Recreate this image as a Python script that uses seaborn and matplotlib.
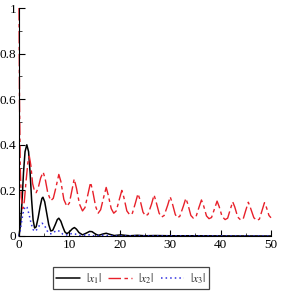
import matplotlib
matplotlib.use("Agg")
import matplotlib.pyplot as plt
import seaborn as sns
import pandas as pd
from matplotlib.ticker import MultipleLocator

# |x1| (black, solid)
x1_t = [0, 0.3, 0.6, 0.9, 1.2, 1.55, 1.9, 2.2, 2.5, 2.8, 3.1, 3.4, 3.8, 4.2, 4.55,
        4.75, 5.1, 5.5, 5.9, 6.3, 6.7, 7.2, 7.6, 7.9, 8.3, 8.7, 9.1, 9.5, 10.0,
        10.6, 11.0, 11.4, 11.9, 12.6, 13.3, 14.0, 14.5, 15.2, 15.8, 16.7, 17.3,
        17.9, 18.9, 20.2, 21.0, 22.0, 23.5, 25.0, 27.0, 30.0, 35.0, 40.0, 50.0]
x1_v = [0, 0.05, 0.15, 0.28, 0.37, 0.40, 0.37, 0.28, 0.16, 0.07, 0.035, 0.04, 0.08,
        0.13, 0.165, 0.17, 0.15, 0.10, 0.05, 0.022, 0.025, 0.05, 0.072, 0.078,
        0.065, 0.04, 0.018, 0.01, 0.018, 0.032, 0.037, 0.03, 0.015, 0.005, 0.012,
        0.02, 0.019, 0.008, 0.003, 0.009, 0.012, 0.008, 0.002, 0.005, 0.003, 0.001,
        0.003, 0.001, 0.002, 0.001, 0.001, 0.0005, 0.0]

# |x2| (red, dashed)
x2_t = [0, 0.1, 0.25, 0.45, 0.75, 1.05, 1.4, 1.75, 2.05, 2.35, 2.7, 3.1, 3.4, 3.8,
        4.3, 4.8, 5.2, 5.7, 6.3, 6.8, 7.3, 7.9, 8.3, 8.9, 9.5, 10.0, 10.5, 10.95,
        11.4, 12.0, 12.6, 13.1, 13.7, 14.2, 14.6, 15.2, 15.7, 16.2, 16.8, 17.3,
        17.7, 18.3, 18.8, 19.3, 19.9, 20.4, 20.8, 21.4, 22.0, 22.5, 23.1, 23.6,
        24.0, 24.6, 25.1, 25.6, 26.3, 26.8, 27.2, 27.8, 28.3, 28.8, 29.5, 30.0,
        30.4, 31.0, 31.4, 31.9, 32.6, 33.1, 33.5, 34.1, 34.6, 35.1, 35.7, 36.2,
        36.6, 37.2, 37.7, 38.2, 38.8, 39.3, 39.7, 40.3, 40.9, 41.4, 41.9, 42.4,
        42.8, 43.4, 44.0, 44.5, 45.0, 45.5, 45.9, 46.6, 47.2, 47.7, 48.2, 48.7,
        49.1, 49.6, 50.0]
x2_v = [1.0, 0.6, 0.3, 0.17, 0.12, 0.15, 0.24, 0.32, 0.35, 0.31, 0.23, 0.195, 0.19,
        0.21, 0.255, 0.28, 0.25, 0.19, 0.155, 0.165, 0.21, 0.27, 0.24, 0.16, 0.13,
        0.145, 0.2, 0.25, 0.21, 0.14, 0.11, 0.125, 0.185, 0.235, 0.2, 0.13, 0.10,
        0.115, 0.17, 0.213, 0.18, 0.12, 0.10, 0.11, 0.16, 0.20, 0.17, 0.11, 0.092,
        0.10, 0.145, 0.185, 0.16, 0.105, 0.088, 0.095, 0.14, 0.18, 0.15, 0.10,
        0.083, 0.09, 0.135, 0.172, 0.145, 0.095, 0.08, 0.086, 0.13, 0.165, 0.14,
        0.09, 0.078, 0.083, 0.125, 0.158, 0.135, 0.088, 0.076, 0.081, 0.12, 0.153,
        0.13, 0.085, 0.072, 0.078, 0.115, 0.15, 0.128, 0.083, 0.07, 0.076, 0.113,
        0.148, 0.125, 0.08, 0.068, 0.074, 0.11, 0.146, 0.125, 0.09, 0.08]

# |x3| (blue, dotted)
x3_t = [0, 0.3, 0.6, 0.9, 1.25, 1.6, 2.0, 2.4, 2.8, 3.2, 3.6, 4.1, 4.6, 5.1, 5.6,
        6.1, 6.5, 7.0, 7.6, 8.1, 8.7, 9.3, 9.9, 10.5, 11.1, 11.8, 12.5, 13.4, 14.0,
        14.8, 16.5, 17.5, 19.0, 50.0]
x3_v = [0, 0.03, 0.075, 0.11, 0.13, 0.125, 0.095, 0.055, 0.028, 0.02, 0.03, 0.048,
        0.056, 0.045, 0.022, 0.01, 0.01, 0.018, 0.025, 0.02, 0.008, 0.004, 0.007,
        0.011, 0.009, 0.003, 0.002, 0.005, 0.005, 0.001, 0.003, 0.002, 0.0005, 0.0]

labels = [r"$|x_1|$", r"$|x_2|$", r"$|x_3|$"]
xticks = [0, 10, 20, 30, 40, 50]
yticks = [0, 0.2, 0.4, 0.6, 0.8, 1]
ytick_labels = ["0", "0.2", "0.4", "0.6", "0.8", "1"]

sns.set_theme(style="white")
plt.rcParams["font.family"] = ["Liberation Serif", "DejaVu Serif"]
plt.rcParams["mathtext.fontset"] = "stix"

fig = plt.figure(figsize=(2.81, 2.92), dpi=100)
ax = fig.add_axes([0.0676, 0.1918, 0.8968, 0.7808])

d1 = pd.DataFrame({"t": x1_t, "v": x1_v})
d2 = pd.DataFrame({"t": x2_t, "v": x2_v})
d3 = pd.DataFrame({"t": x3_t, "v": x3_v})

sns.lineplot(data=d1, x="t", y="v", ax=ax, color="black", lw=1.1, sort=False,
             label=labels[0], clip_on=False)
sns.lineplot(data=d2, x="t", y="v", ax=ax, color="#e8202a", lw=1.0, sort=False,
             label=labels[1], clip_on=False)
ax.lines[-1].set_dashes([9, 2.5, 2.5, 2.5])
sns.lineplot(data=d3, x="t", y="v", ax=ax, color="#3030e0", lw=1.1, sort=False,
             label=labels[2], clip_on=False)
ax.lines[-1].set_dashes([1, 2])

ax.set_xlim(0, 50)
ax.set_ylim(0, 1)
ax.set_xlabel("")
ax.set_ylabel("")
ax.set_xticks(xticks)
ax.set_yticks(yticks)
ax.set_yticklabels(ytick_labels)
ax.xaxis.set_minor_locator(MultipleLocator(5))
ax.yaxis.set_minor_locator(MultipleLocator(0.1))
ax.tick_params(axis="both", which="major", direction="in", length=4, width=0.8,
               labelsize=9.5, colors="black", pad=2, bottom=True, left=True)
ax.tick_params(axis="both", which="minor", direction="in", length=2, width=0.6,
               bottom=True, left=True)
for s in ["top", "right"]:
    ax.spines[s].set_visible(False)
for s in ["left", "bottom"]:
    ax.spines[s].set_color("black")
    ax.spines[s].set_linewidth(0.8)

ax.get_legend().remove()
h, l = ax.get_legend_handles_labels()
leg = fig.legend(h, l, loc="center", bbox_to_anchor=(0.466, 0.047), ncol=3,
                 frameon=True, fancybox=False, edgecolor="#444444", fontsize=8.5,
                 handlelength=2.0, handletextpad=0.5, columnspacing=0.6,
                 borderpad=0.3, framealpha=1, borderaxespad=0)
leg.get_frame().set_linewidth(0.9)

fig.savefig("out.png", dpi=100)
